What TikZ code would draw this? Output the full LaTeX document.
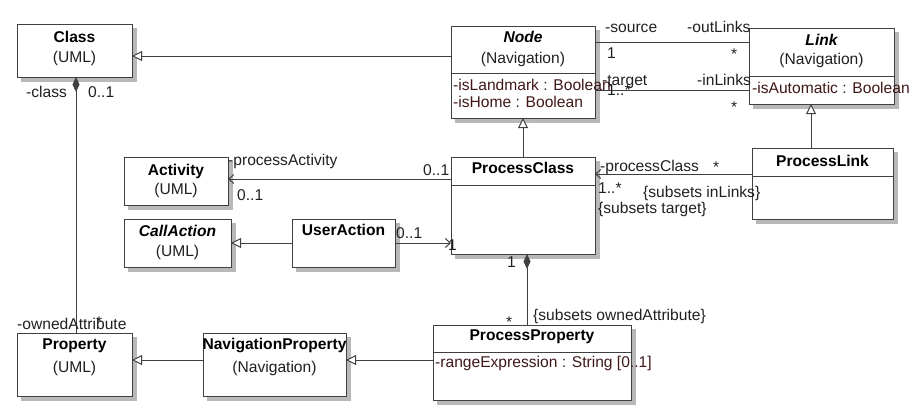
\documentclass[tikz,border=0pt]{standalone}
\usepackage{fontspec}
\setmainfont{Liberation Sans}
\usetikzlibrary{arrows.meta,shadows}
\definecolor{ln}{HTML}{404040}
\definecolor{attr}{HTML}{401818}
\definecolor{shd}{HTML}{B8B8B8}
\definecolor{txt}{HTML}{202020}
\newcommand\umlbox[5]{%
  \node[box, minimum width={(#4-#2)*1pt}, minimum height={(#5-#3)*1pt}] (#1) at ({(#2+#4)/2},{(#3+#5)/2}) {};}
\begin{document}
\begin{tikzpicture}[x=1pt,y=-1pt,
  font=\fontsize{15.6}{18}\selectfont,
  box/.style={draw=ln, fill=white, line width=1pt, inner sep=0pt, outer sep=0pt,
    general shadow={fill=shd, draw=shd, shadow xshift=4pt, shadow yshift=-4pt}},
  divider/.style={draw=ln, line width=1pt},
  title/.style={anchor=base, inner sep=0pt, font=\fontsize{15.6}{18}\selectfont\bfseries, text=black},
  ititle/.style={title, font=\fontsize{15.6}{18}\selectfont\bfseries\itshape},
  sub/.style={anchor=base, inner sep=0pt, text=txt},
  attrib/.style={anchor=base west, inner sep=0pt, text=attr},
  lbl/.style={anchor=base west, inner sep=0pt, text=txt},
  gen/.style={draw=ln, line width=1pt, -{Triangle[open, length=10pt, width=10pt, fill=white]}},
  assoc/.style={draw=ln, line width=1pt, -{Straight Barb[length=5pt, width=9pt]}},
  plain/.style={draw=ln, line width=1pt},
  comp/.style={draw=ln, line width=1pt, {Diamond[length=15pt, width=7pt, fill=ln]}-}]
\useasboundingbox (0,0) rectangle (918,407);

% boxes
\umlbox{Class}{17}{24}{132}{77}
\umlbox{Node}{451}{26}{595}{118}
\umlbox{Link}{749}{28}{894}{104}
\umlbox{Activity}{124}{157}{228}{205}
\umlbox{CallAction}{124}{219}{231}{267}
\umlbox{UserAction}{292}{219}{395}{267}
\umlbox{ProcessClass}{451}{157}{595}{254}
\umlbox{ProcessLink}{752}{148}{893}{219}
\umlbox{ProcessProperty}{433}{325}{631}{400}
\umlbox{NavProp}{203}{333}{346}{396}
\umlbox{Property}{17}{333}{132}{396}

% compartment dividers
\draw[divider] ([yshift=-47pt]Node.north west) -- ([yshift=-47pt]Node.north east);
\draw[divider] ([yshift=-48pt]Link.north west) -- ([yshift=-48pt]Link.north east);
\draw[divider] ([yshift=-28pt]ProcessClass.north west) -- ([yshift=-28pt]ProcessClass.north east);
\draw[divider] ([yshift=-28pt]ProcessLink.north west) -- ([yshift=-28pt]ProcessLink.north east);
\draw[divider] ([yshift=-27pt]ProcessProperty.north west) -- ([yshift=-27pt]ProcessProperty.north east);

% titles
\node[title] (tClass) at (74.5,42) {Class};
\node[sub] (sClass) at (74.5,62) {(UML)};
\node[ititle] (tNode) at (523,42) {Node};
\node[sub] (sNode) at (523,63) {(Navigation)};
\node[attrib] (aNode1) at (453,90) {-isLandmark : Boolean};
\node[attrib] (aNode2) at (453,107) {-isHome : Boolean};
\node[ititle] (tLink) at (821.5,45) {Link};
\node[sub] (sLink) at (821.5,64) {(Navigation)};
\node[attrib] (aLink) at (752,93) {-isAutomatic : Boolean};
\node[title] (tActivity) at (176,175) {Activity};
\node[sub] (sActivity) at (176,194) {(UML)};
\node[ititle] (tCallAction) at (177.5,236) {CallAction};
\node[sub] (sCallAction) at (177.5,256) {(UML)};
\node[title] (tUserAction) at (343.5,235) {UserAction};
\node[title] (tProcessClass) at (523,173) {ProcessClass};
\node[title] (tProcessLink) at (822.5,166) {ProcessLink};
\node[title] (tProcessProperty) at (532,340) {ProcessProperty};
\node[attrib] (aProcessProperty) at (435,367) {-rangeExpression : String [0..1]};
\node[title] (tNavProp) at (274.5,349) {NavigationProperty};
\node[sub] (sNavProp) at (274.5,372) {(Navigation)};
\node[title] (tProperty) at (74.5,349) {Property};
\node[sub] (sProperty) at (74.5,372) {(UML)};

% connectors
\draw[gen] ([yshift=-30pt]Node.north west) -- ([yshift=-32pt]Class.north east);
\draw[plain] ([yshift=-16pt]Node.north east) -- ([yshift=-14pt]Link.north west);
\draw[plain] ([yshift=-64pt]Node.north east) -- ([yshift=-62pt]Link.north west);
\draw[gen] (ProcessClass.north) -- (Node.south);
\draw[gen] ([xshift=-11.5pt]ProcessLink.north) -- ([xshift=-10.5pt]Link.south);
\draw[assoc] ([yshift=-26pt]ProcessLink.north west) -- ([yshift=-17pt]ProcessClass.north east);
\draw[assoc] ([yshift=-22pt]ProcessClass.north west) -- ([yshift=-22pt]Activity.north east);
\draw[gen] (UserAction.west) -- (UserAction.west -| CallAction.east);
\draw[assoc] (UserAction.east) -- (UserAction.east -| ProcessClass.west);
\draw[comp] ([xshift=4pt]ProcessClass.south) -- ([xshift=-5pt]ProcessProperty.north);
\draw[gen] ([yshift=-35pt]ProcessProperty.north west) -- ([yshift=-27pt]NavProp.north east);
\draw[gen] ([yshift=-27pt]NavProp.north west) -- ([yshift=-27pt]Property.north east);
\draw[comp] ([xshift=1.5pt]Class.south) -- ([xshift=1.5pt]Property.north);

% association end labels
\node[lbl] (lsource) at (605,32) {-source};
\node[lbl] (loutLinks) at (687,32) {-outLinks};
\node[lbl] (lsrc1) at (607,58) {1};
\node[lbl] (lsrcStar) at (731,59) {*};
\node[lbl] (ltarget) at (602,85) {-target};
\node[lbl] (linLinks) at (697,85) {-inLinks};
\node[lbl] (ltgtMult) at (607,95) {1..*};
\node[lbl] (ltgtStar) at (731,112) {*};
\node[lbl] (lprocessClass) at (600,171) {-processClass};
\node[lbl] (lpcStar) at (713,172) {*};
\node[lbl] (lpcMult) at (598,193) {1..*};
\node[lbl] (lsubInLinks) at (643,197) {\{subsets inLinks\}};
\node[lbl] (lsubTarget) at (598,213) {\{subsets target\}};
\node[lbl] (lprocessActivity) at (228,165) {-processActivity};
\node[lbl] (lpaMult) at (237,200) {0..1};
\node[lbl] (lpaMult2) at (423,175) {0..1};
\node[lbl] (luaMult) at (396,238) {0..1};
\node[lbl] (luaOne) at (448,250) {1};
\node[lbl] (lppOne) at (507,267) {1};
\node[lbl] (lppStar) at (506,327) {*};
\node[lbl] (lsubOwned) at (533,320) {\{subsets ownedAttribute\}};
\node[lbl] (lclass) at (26,97) {-class};
\node[lbl] (lclassMult) at (88,97) {0..1};
\node[lbl] (lownedAttr) at (17,329) {-ownedAttribute};
\node[lbl] (loaStar) at (96,327) {*};
\end{tikzpicture}
\end{document}
